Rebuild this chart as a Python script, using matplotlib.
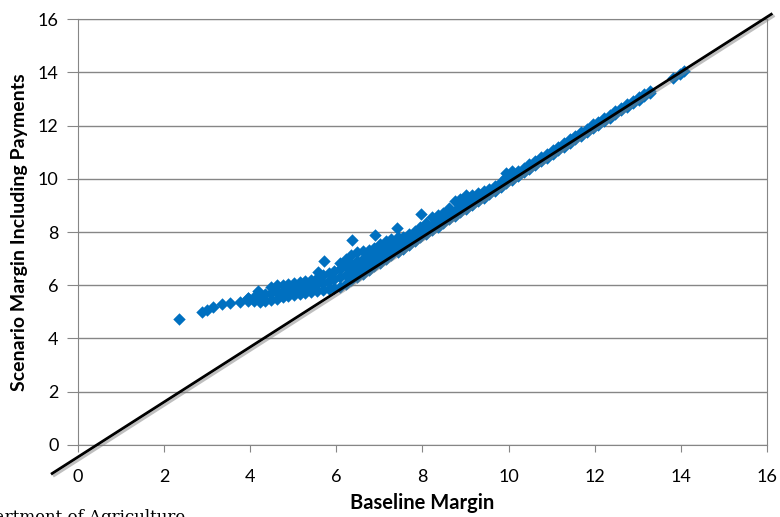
import matplotlib.pyplot as plt
import matplotlib.patheffects as pe

# scatter data (baseline margin vs scenario margin)
lone_x = [2.35, 2.88, 2.99, 3.14, 3.34, 3.53, 3.76, 3.95, 4.18,
          5.57, 5.71, 6.36, 6.90, 7.41, 7.97]
lone_y = [4.73, 4.99, 5.07, 5.18, 5.30, 5.34, 5.38, 5.51, 5.80,
          6.50, 6.91, 7.70, 7.87, 8.15, 8.68]

band_cols = {
    3.95: [5.42, 5.52], 4.08: [5.40, 5.55], 4.22: [5.38, 5.60], 4.35: [5.42, 5.68],
    4.48: [5.45, 5.72, 5.92], 4.62: [5.50, 5.75, 6.00], 4.75: [5.55, 5.80, 6.02],
    4.88: [5.58, 5.82, 6.05], 5.02: [5.62, 5.85, 6.08], 5.15: [5.66, 5.90, 6.12],
    5.28: [5.70, 5.92, 6.15], 5.42: [5.74, 5.98, 6.20], 5.55: [5.80, 6.05, 6.28],
    5.68: [5.84, 6.10, 6.38], 5.82: [5.86, 6.15, 6.45], 5.95: [5.88, 6.22, 6.55],
    6.08: [5.92, 6.30, 6.62, 6.85], 6.22: [6.05, 6.40, 6.72, 7.00],
    6.35: [6.18, 6.50, 6.80, 7.15], 6.48: [6.30, 6.60, 6.90, 7.25],
    6.62: [6.44, 6.72, 7.00, 7.30], 6.75: [6.58, 6.85, 7.10, 7.32],
    6.88: [6.72, 6.98, 7.20, 7.40], 7.02: [6.85, 7.10, 7.35, 7.55],
    7.15: [6.98, 7.22, 7.45, 7.65], 7.28: [7.12, 7.35, 7.58, 7.72],
    7.42: [7.25, 7.48, 7.70, 7.80], 7.55: [7.38, 7.60, 7.82],
    7.68: [7.52, 7.75, 7.92], 7.82: [7.65, 7.88, 8.05], 7.95: [7.80, 8.00, 8.20],
    8.08: [7.92, 8.12, 8.35], 8.22: [8.06, 8.26, 8.55], 8.35: [8.20, 8.40, 8.62],
    8.48: [8.33, 8.55, 8.72], 8.62: [8.47, 8.68, 8.90], 8.75: [8.60, 8.80, 9.15],
    8.88: [8.74, 8.95, 9.25], 9.02: [8.88, 9.08, 9.38], 9.15: [9.02, 9.20, 9.40],
    9.28: [9.15, 9.32, 9.45], 9.42: [9.28, 9.45, 9.55], 9.55: [9.42, 9.60],
    9.68: [9.55, 9.72], 9.82: [9.70, 9.88], 9.95: [9.83, 10.05, 10.22],
    10.08: [9.97, 10.15, 10.28], 10.22: [10.11, 10.28], 10.35: [10.25, 10.42],
    10.48: [10.38, 10.55], 10.62: [10.52, 10.68], 10.75: [10.66, 10.80],
    10.88: [10.79, 10.93], 11.02: [10.94, 11.08], 11.15: [11.07, 11.20],
    11.28: [11.20, 11.33], 11.42: [11.35, 11.48], 11.55: [11.48, 11.60],
    11.68: [11.62, 11.74], 11.82: [11.76, 11.88], 11.95: [11.90, 12.05],
    12.08: [12.03, 12.15], 12.22: [12.17, 12.28], 12.35: [12.30, 12.40],
    12.48: [12.43, 12.53], 12.62: [12.57, 12.66], 12.75: [12.70, 12.80],
    12.88: [12.84, 12.92], 13.02: [12.97, 13.06], 13.15: [13.10, 13.18],
    13.28: [13.24, 13.30], 13.82: [13.78], 13.98: [13.95], 14.08: [14.03],
}

# the black reference line
trend_x = [-0.6, 16.1]
trend_y = [-1.07, 16.18]

xs = list(lone_x)
ys = list(lone_y)
for bx, col in band_cols.items():
    for by in col:
        xs.append(bx)
        ys.append(by)

plt.rcParams['font.family'] = ['Lato', 'DejaVu Sans']
fig = plt.figure(figsize=(7.8, 5.17), dpi=100)
ax = fig.add_axes([0.1, 0.1393, 0.8833, 0.8239])

grey = "#868686"
ax.scatter(xs, ys, marker="D", s=40, color="#0070C0", linewidths=0, zorder=3)
ax.plot(trend_x, trend_y, color="black", lw=2.0, clip_on=False, zorder=4,
        path_effects=[pe.SimpleLineShadow(offset=(1.5, -1.5), shadow_color="gray", alpha=0.5),
                      pe.Normal()])

ax.set_xlim(0, 16)
ax.set_ylim(0, 16)
ax.set_xticks(range(0, 17, 2))
ax.set_yticks(range(0, 17, 2))
ax.yaxis.grid(True, color=grey, lw=1.0)
ax.set_axisbelow(True)
for s in ax.spines.values():
    s.set_color(grey)
ax.tick_params(axis="y", length=8, color=grey, labelsize=13, pad=6)
ax.tick_params(axis="x", length=5, color=grey, labelsize=13, pad=12)

ax.set_xlabel("Baseline Margin", fontsize=14.5, fontweight="bold")
ax.xaxis.set_label_coords(0.5, -0.112)
ax.set_ylabel("Scenario Margin Including Payments", fontsize=14, fontweight="bold")
ax.yaxis.set_label_coords(-0.072, 0.5)

fig.text(-0.05, -0.01, "Department of Agriculture", family="serif", fontsize=12,
         va="baseline", ha="left")

fig.savefig("out.png", dpi=100)
